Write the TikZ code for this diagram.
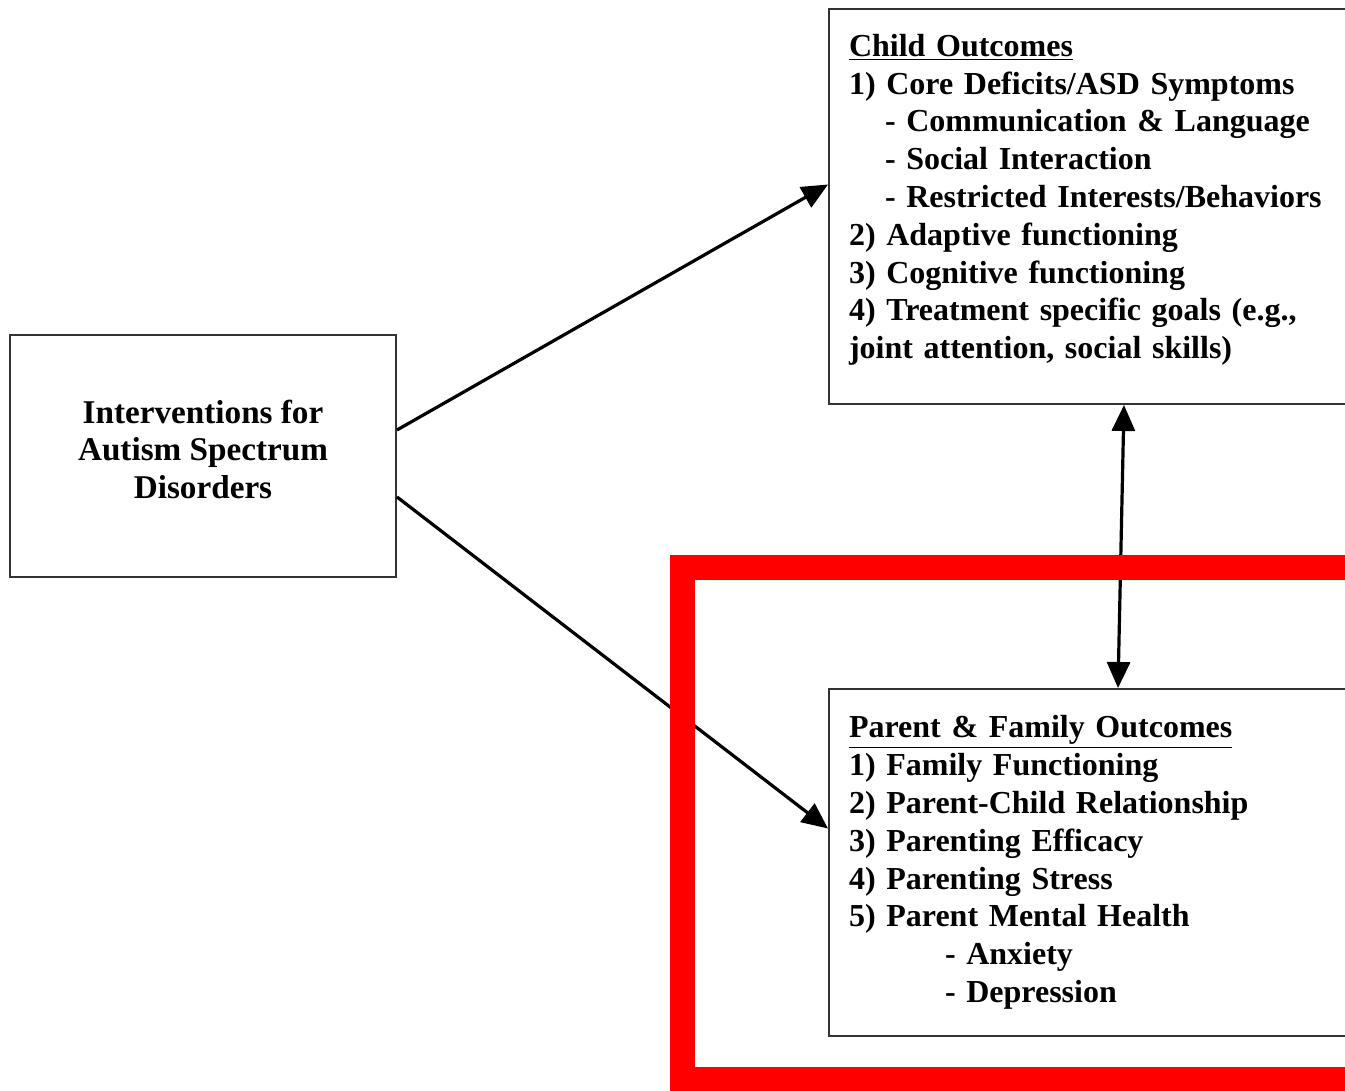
\documentclass[tikz,border=0pt]{standalone}
\usepackage{fontspec}
\setmainfont{Liberation Serif}
\usetikzlibrary{arrows.meta, positioning}
\tikzset {
    >={Triangle[length=13pt, width=11.5pt]},
    outbox/.style={draw=black!80, line width=1pt, fill=white},
    listbox/.style={outbox, align=left, text width=300pt, inner xsep=10pt,
        font=\bfseries\fontsize{16pt}{18.9pt}\selectfont},
    link/.style={->, line width=1.6pt}
}
\newcommand{\ind}[1]{\hspace*{#1}}
\newcommand{\lift}[1]{\rule[-#1]{0pt}{0pt}}

\begin{document}
\begin{tikzpicture}[x=0.5pt, y=-0.5pt]
    \useasboundingbox (0,0) rectangle (1345,1091);
    \fill[white] (0,0) rectangle (1345,1091);

    \node[outbox, minimum width=193pt, minimum height=121pt, align=center,
          font=\bfseries\fontsize{16.6pt}{18.75pt}\selectfont] (iv) at (203,456)
          {Interventions for\\Autism Spectrum\\Disorders\lift{7pt}};

    \node[listbox, anchor=north west, minimum height=197.5pt] (child) at (828,8)
          {\underline{Child Outcomes}\\
           1) Core Deficits/ASD Symptoms\\
           \ind{18pt}- Communication \& Language\\
           \ind{18pt}- Social Interaction\\
           \ind{18pt}- Restricted Interests/Behaviors\\
           2) Adaptive functioning\\
           3) Cognitive functioning\\
           4) Treatment specific goals (e.g.,\\
           joint attention, social skills)\lift{10pt}};

    \node[listbox, below=141.5pt of child, minimum height=173.5pt] (family)
          {\underline{Parent \& Family Outcomes}\\
           1) Family Functioning\\
           2) Parent-Child Relationship\\
           3) Parenting Efficacy\\
           4) Parenting Stress\\
           5) Parent Mental Health\\
           \ind{48pt}- Anxiety\\
           \ind{48pt}- Depression};

    \draw[link] ([yshift=13pt]iv.east) -- ([yshift=11pt]child.west);
    \draw[link] ([yshift=-20.5pt]iv.east) -- ([yshift=17pt]family.west);
    \draw[link, <->] ([xshift=148pt]child.south west) -- ([xshift=145pt]family.north west);

    % highlight frame
    \draw[red, line width=12.5pt] (682,567) rectangle (1420,1079);
\end{tikzpicture}
\end{document}
